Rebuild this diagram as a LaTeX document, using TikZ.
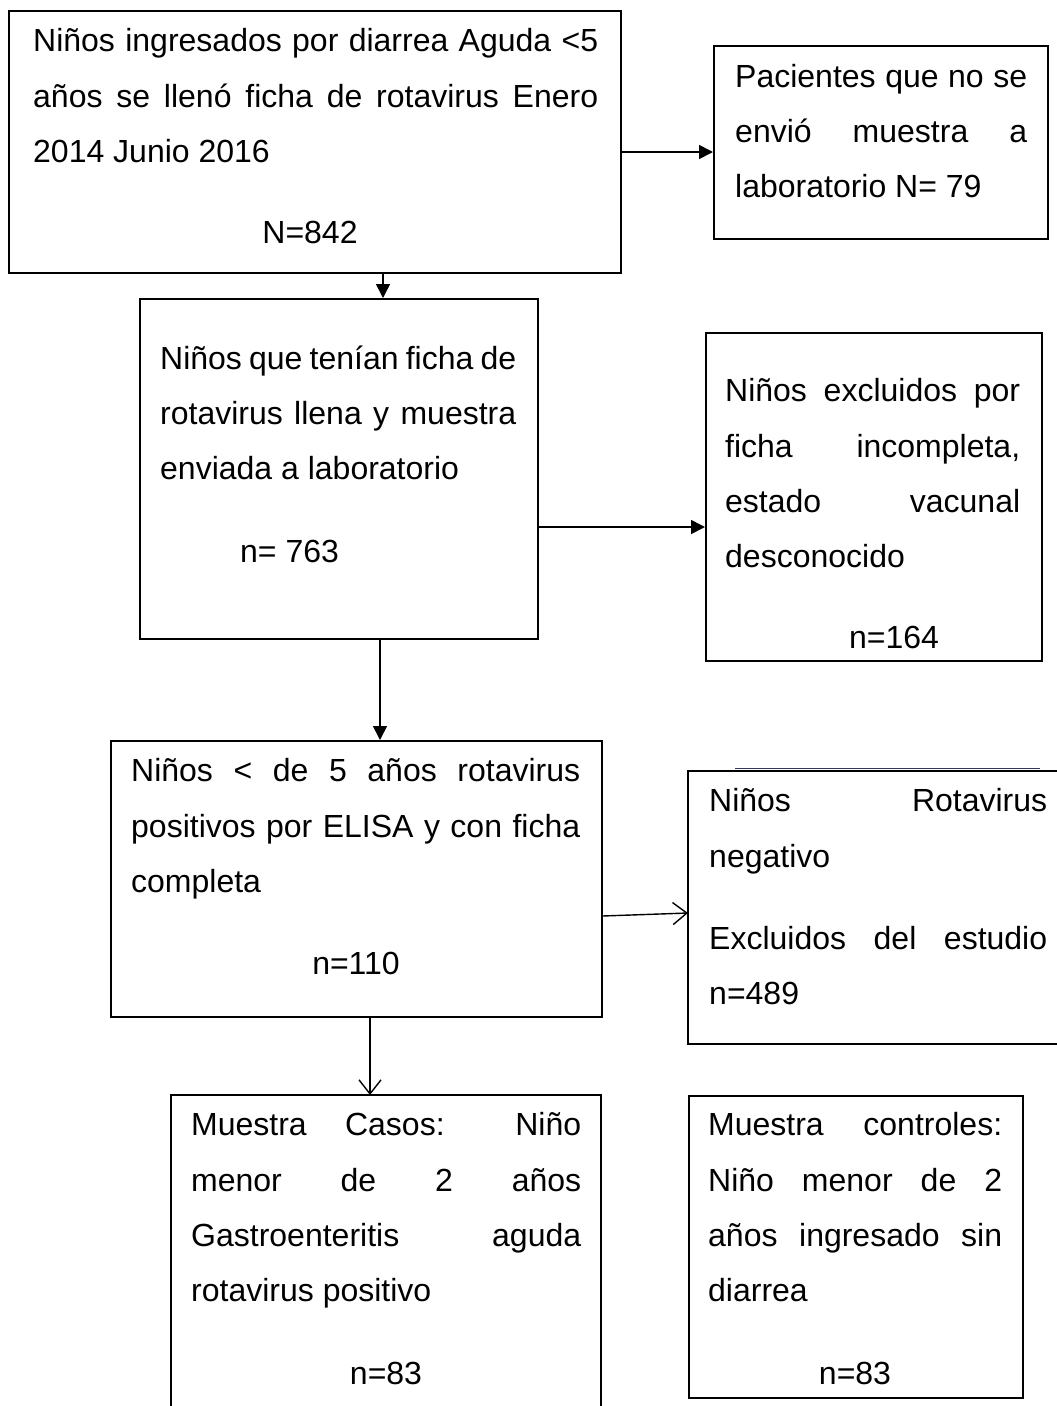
\documentclass[tikz,border=0pt]{standalone}
\usepackage{fontspec}
\setmainfont{Liberation Sans}
\usetikzlibrary{arrows.meta}
\tikzset{
  boxline/.style={draw=black, line width=1.6pt},
  frame/.style={boxline, inner sep=0pt, anchor=north west},
  txt/.style={anchor=base west, inner sep=0pt, font=\fontsize{32}{56}\selectfont},
  ctxt/.style={anchor=base, inner sep=0pt, font=\fontsize{32}{56}\selectfont},
  solidarrow/.style={draw=black, line width=1.6pt, -{Triangle[length=14pt,width=14pt]}},
  openarrow/.style={draw=black, line width=1.4pt, -{Straight Barb[length=14pt,width=22pt,line width=1.4pt]}},
}
\newcommand{\jline}[2]{\makebox[#1pt][s]{#2}}
\begin{document}
\begin{tikzpicture}[x=1pt,y=-1pt]
\useasboundingbox (0,0) rectangle (1057,1406);
% boxes
\node[frame, minimum width=612pt, minimum height=262pt] (b1) at (8,10) {};
\node[frame, minimum width=334pt, minimum height=193pt] (b2) at (713,45) {};
\node[frame, minimum width=398pt, minimum height=340pt] (b3) at (139,298) {};
\node[frame, minimum width=336pt, minimum height=328pt] (b4) at (705,332) {};
\node[frame, minimum width=491pt, minimum height=276pt] (b5) at (110,740) {};
\node[frame, minimum width=334pt, minimum height=302pt] (b8) at (688,1095) {};
% open boxes (cut by the page edge)
\coordinate (b6tr) at (1058,771);
\coordinate (b6tl) at (688,771);
\coordinate (b6bl) at (688,1044);
\coordinate (b6br) at (1058,1044);
\draw[boxline] (b6tr) -- (b6tl) -- (b6bl) -- (b6br);
\coordinate (b6g1) at (735,768);
\coordinate (b6g2) at (1040,768);
\draw[draw=gray!70!blue!60!black, line width=1pt] (b6g1) -- (b6g2);
\coordinate (b7bl) at (171,1407);
\coordinate (b7tl) at (171,1095);
\coordinate (b7tr) at (601,1095);
\coordinate (b7br) at (601,1407);
\draw[boxline] (b7bl) -- (b7tl) -- (b7tr) -- (b7br);

% texts box 1
\node[txt] (t11) at (33,51) {\jline{565}{Niños ingresados por diarrea Aguda <5}};
\node[txt] (t12) at (33,107) {\jline{565}{años se llenó ficha de rotavirus Enero}};
\node[txt] (t13) at (33,162) {2014 Junio 2016};
\node[ctxt] (t14) at (310,243) {N=842};
% box 2
\node[txt] (t21) at (735,87) {\jline{292}{Pacientes que no se}};
\node[txt] (t22) at (735,142) {\jline{292}{envió muestra a}};
\node[txt] (t23) at (735,197) {laboratorio N= 79};
% box 3
\node[txt] (t31) at (160,369) {\jline{356}{Niños que tenían ficha de}};
\node[txt] (t32) at (160,424) {\jline{356}{rotavirus llena y muestra}};
\node[txt] (t33) at (160,479) {enviada a laboratorio};
\node[txt] (t34) at (240,562) {n= 763};
% box 4
\node[txt] (t41) at (725,401) {\jline{295}{Niños excluidos por}};
\node[txt] (t42) at (725,457) {\jline{295}{ficha incompleta,}};
\node[txt] (t43) at (725,512) {\jline{295}{estado vacunal}};
\node[txt] (t44) at (725,567) {desconocido};
\node[ctxt] (t45) at (894,648) {n=164};
% box 5
\node[txt] (t51) at (131,781) {\jline{449}{Niños < de 5 años rotavirus}};
\node[txt] (t52) at (131,837) {\jline{449}{positivos por ELISA y con ficha}};
\node[txt] (t53) at (131,892) {completa};
\node[ctxt] (t54) at (356,974) {n=110};
% box 6
\node[txt] (t61) at (709,811) {\jline{338}{Niños Rotavirus}};
\node[txt] (t62) at (709,867) {negativo};
\node[txt] (t63) at (709,949) {\jline{338}{Excluidos del estudio}};
\node[txt] (t64) at (709,1004) {n=489};
% box 7
\node[txt] (t71) at (191,1135) {\jline{390}{Muestra Casos: Niño}};
\node[txt] (t72) at (191,1191) {\jline{390}{menor de 2 años}};
\node[txt] (t73) at (191,1246) {\jline{390}{Gastroenteritis aguda}};
\node[txt] (t74) at (191,1301) {rotavirus positivo};
\node[ctxt] (t75) at (386,1384) {n=83};
% box 8
\node[txt] (t81) at (708,1135) {\jline{294}{Muestra controles:}};
\node[txt] (t82) at (708,1191) {\jline{294}{Niño menor de 2}};
\node[txt] (t83) at (708,1246) {\jline{294}{años ingresado sin}};
\node[txt] (t84) at (708,1301) {diarrea};
\node[ctxt] (t85) at (855,1384) {n=83};

% connectors
\draw[solidarrow] (b1.east |- 0,152) -- (b2.west |- 0,152);
\draw[solidarrow] (b1.south -| 383,0) -- (b3.north -| 383,0);
\draw[solidarrow] (b3.east |- 0,527) -- (b4.west |- 0,527);
\draw[solidarrow] (b3.south -| 380,0) -- (b5.north -| 380,0);
\coordinate (a5e) at (688,913);
\draw[openarrow] (b5.east |- 0,916) -- (a5e);
\coordinate (a6e) at (370,1095);
\draw[openarrow] (b5.south -| 370,0) -- (a6e);
\end{tikzpicture}
\end{document}
